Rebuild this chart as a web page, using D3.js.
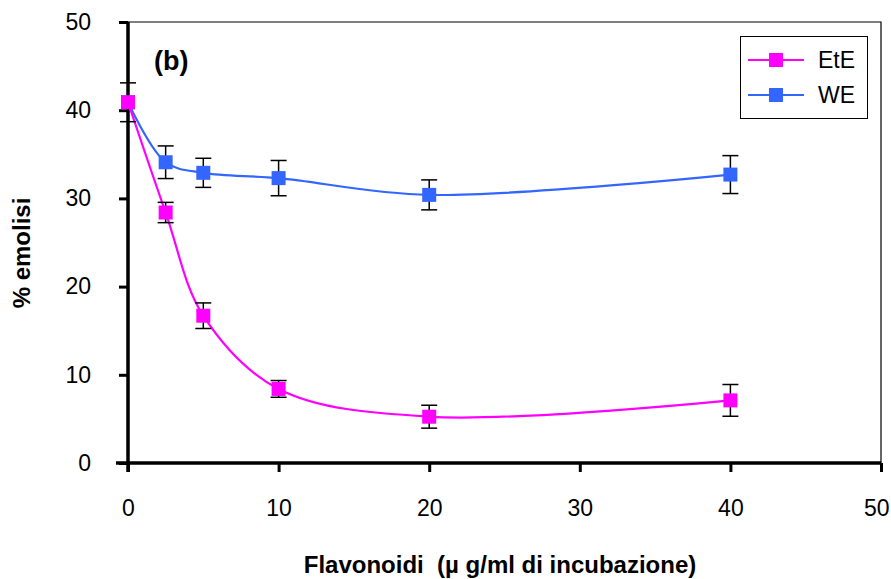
<!DOCTYPE html>
<html>
<head>
<meta charset="utf-8">
<script src="https://cdn.jsdelivr.net/npm/d3@7"></script>
<style>
  body { margin: 0; background: #fff; }
  text { font-family: "Liberation Sans", Arial, sans-serif; }
</style>
</head>
<body>
<div id="chart"></div>
<script>
let width = 891, height = 579;
let margin = {top: 22, right: 10, bottom: 116, left: 128};

// data
let doses = [0, 2.5, 5, 10, 20, 40];
let eteValues = [40.9, 28.4, 16.7, 8.4, 5.25, 7.1];
let eteErrors = [2.2, 1.15, 1.45, 0.95, 1.3, 1.8];
let weValues = [40.9, 34.1, 32.9, 32.3, 30.4, 32.7];
let weErrors = [0, 1.85, 1.65, 2.0, 1.7, 2.15];
let xTicks = [0, 10, 20, 30, 40, 50];
let yTicks = [0, 10, 20, 30, 40, 50];

let series = [
  {name: "EtE", color: "#FF00FF", values: eteValues, errors: eteErrors},
  {name: "WE", color: "#3366FF", values: weValues, errors: weErrors}
];

let x = d3.scaleLinear().domain([0, 50]).range([margin.left, width - margin.right]);
let y = d3.scaleLinear().domain([0, 50]).range([height - margin.bottom, margin.top]);

let svg = d3.select("#chart").append("svg")
  .attr("width", width)
  .attr("height", height);

// plot border (top / right)
svg.append("path")
  .attr("d", `M${x(0)},${y(50)}H${x(50)}V${y(0)}`)
  .attr("fill", "none")
  .attr("stroke", "#000")
  .attr("stroke-width", 1.2);

let xAxis = svg.append("g")
  .attr("transform", `translate(0,${y(0)})`)
  .call(d3.axisBottom(x).tickValues(xTicks).tickSize(9).tickPadding(28).tickSizeOuter(0));
xAxis.select(".domain").attr("d", `M${x(0) - 12},0H${x(50)}`).attr("stroke-width", 3.5);
xAxis.selectAll(".tick line").attr("stroke-width", 3);
xAxis.selectAll(".tick text").attr("font-size", 23).attr("fill", "#000");
// keep the last label inside the page
xAxis.selectAll(".tick text").filter(d => d === 50)
  .attr("text-anchor", "end").attr("x", width - 2 - x(50));

let yAxis = svg.append("g")
  .attr("transform", `translate(${x(0)},0)`)
  .call(d3.axisLeft(y).tickValues(yTicks).tickSize(9).tickPadding(28).tickSizeOuter(0));
yAxis.select(".domain").attr("d", `M0,${y(0) + 9}V${y(50)}`).attr("stroke-width", 3.5);
yAxis.selectAll(".tick line").attr("stroke-width", 3);
yAxis.selectAll(".tick text").attr("font-size", 23).attr("fill", "#000");

svg.append("text")
  .attr("x", 500)
  .attr("y", 573)
  .attr("text-anchor", "middle")
  .attr("font-size", 24)
  .attr("font-weight", "bold")
  .style("white-space", "pre")
  .text("Flavonoidi  (\u00B5 g/ml di incubazione)");

svg.append("text")
  .attr("transform", `translate(30,253) rotate(-90)`)
  .attr("text-anchor", "middle")
  .attr("font-size", 24)
  .attr("font-weight", "bold")
  .text("% emolisi");

svg.append("text")
  .attr("x", 154)
  .attr("y", 70)
  .attr("font-size", 27)
  .attr("font-weight", "bold")
  .text("(b)");

let line = d3.line()
  .x((d, i) => x(doses[i]))
  .y(d => y(d))
  .curve(d3.curveCatmullRom.alpha(0.5));

// draw WE first so EtE marker sits on top at 0
let order = [series[1], series[0]];

order.forEach(s => {
  let g = svg.append("g");
  g.append("path")
    .datum(s.values)
    .attr("d", line)
    .attr("fill", "none")
    .attr("stroke", s.color)
    .attr("stroke-width", 2.2);

  let bars = g.selectAll(".err")
    .data(s.values.map((v, i) => ({x: doses[i], v: v, e: s.errors[i]})).filter(d => d.e > 0))
    .enter().append("g");
  bars.append("line")
    .attr("x1", d => x(d.x)).attr("x2", d => x(d.x))
    .attr("y1", d => y(d.v + d.e)).attr("y2", d => y(d.v - d.e))
    .attr("stroke", "#000").attr("stroke-width", 1.5);
  [1, -1].forEach(sg => {
    bars.append("line")
      .attr("x1", d => x(d.x) - 8).attr("x2", d => x(d.x) + 8)
      .attr("y1", d => y(d.v + sg * d.e)).attr("y2", d => y(d.v + sg * d.e))
      .attr("stroke", "#000").attr("stroke-width", 1.5);
  });

  g.selectAll("rect")
    .data(s.values)
    .enter().append("rect")
    .attr("x", (d, i) => x(doses[i]) - 7)
    .attr("y", d => y(d) - 7)
    .attr("width", 14)
    .attr("height", 14)
    .attr("fill", s.color);
});

// legend
let legend = svg.append("g");
legend.append("rect")
  .attr("x", 740.5).attr("y", 36.5)
  .attr("width", 127).attr("height", 82)
  .attr("fill", "#fff").attr("stroke", "#000").attr("stroke-width", 1);

series.forEach((s, i) => {
  let ly = 60 + i * 35;
  legend.append("line")
    .attr("x1", 748).attr("x2", 804)
    .attr("y1", ly).attr("y2", ly)
    .attr("stroke", s.color).attr("stroke-width", 2.2);
  legend.append("rect")
    .attr("x", 769).attr("y", ly - 7)
    .attr("width", 14).attr("height", 14)
    .attr("fill", s.color);
  legend.append("text")
    .attr("x", 818).attr("y", ly + 8)
    .attr("font-size", 23)
    .text(s.name);
});
</script>
</body>
</html>
